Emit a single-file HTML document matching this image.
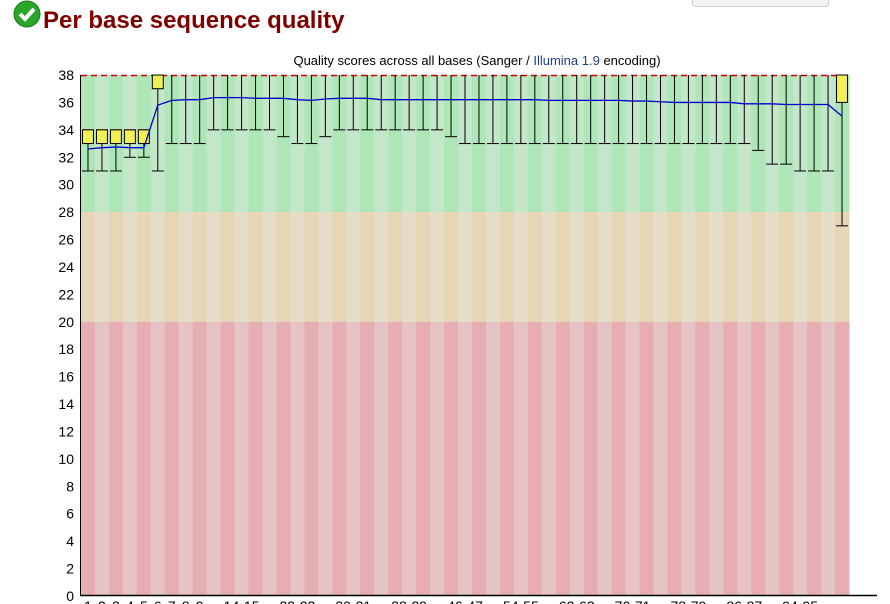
<!DOCTYPE html>
<html><head><meta charset="utf-8">
<style>
html,body{margin:0;padding:0;background:#fff;width:890px;height:604px;overflow:hidden;font-family:"Liberation Sans",sans-serif;}
#title{position:absolute;left:43px;top:7px;font-size:24px;font-weight:bold;color:#800000;margin:0;}
#chk{position:absolute;left:13px;top:0px;}
#btn{position:absolute;left:692px;top:-10px;width:135px;height:15px;border:1px solid #ccc;border-radius:3px;background:#f4f4f4;}
svg text{font-family:"Liberation Sans",sans-serif;}
</style></head><body>
<svg id="chk" width="30" height="30"><circle cx="14" cy="14" r="13" fill="#2aa52a" stroke="#1a7a1a"/><path d="M7 14 L12 19 L21 9" stroke="#fff" stroke-width="4" fill="none"/></svg>
<h2 id="title">Per base sequence quality</h2>
<div id="btn"></div>
<svg id="chart" width="890" height="604" style="position:absolute;left:0;top:0"></svg>
<script>
const labels=["1","2","3","4","5","6","7","8","9","10-11","12-13","14-15","16-17","18-19","20-21","22-23","24-25","26-27","28-29","30-31","32-33","34-35","36-37","38-39","40-41","42-43","44-45","46-47","48-49","50-51","52-53","54-55","56-57","58-59","60-61","62-63","64-65","66-67","68-69","70-71","72-73","74-75","76-77","78-79","80-81","82-83","84-85","86-87","88-89","90-91","92-93","94-95","96-97","98-99","100-101"];
const means=[32.6,32.7,32.75,32.7,32.7,35.8,36.15,36.2,36.2,36.35,36.35,36.35,36.3,36.3,36.3,36.2,36.15,36.25,36.3,36.3,36.3,36.2,36.2,36.2,36.2,36.2,36.2,36.2,36.2,36.2,36.2,36.2,36.2,36.15,36.15,36.15,36.15,36.15,36.15,36.1,36.1,36.05,36.0,36.0,36.0,36.0,36.0,35.9,35.9,35.9,35.85,35.85,35.85,35.85,35.0];
const q1=[33,33,33,33,33,37,38,38,38,38,38,38,38,38,38,38,38,38,38,38,38,38,38,38,38,38,38,38,38,38,38,38,38,38,38,38,38,38,38,38,38,38,38,38,38,38,38,38,38,38,38,38,38,38,36];
const q3=[34,34,34,34,34,38,38,38,38,38,38,38,38,38,38,38,38,38,38,38,38,38,38,38,38,38,38,38,38,38,38,38,38,38,38,38,38,38,38,38,38,38,38,38,38,38,38,38,38,38,38,38,38,38,38];
const lowW=[31,31,31,32,32,31,33,33,33,34,34,34,34,34,33.5,33,33,33.5,34,34,34,34,34,34,34,34,33.5,33,33,33,33,33,33,33,33,33,33,33,33,33,33,33,33,33,33,33,33,33,32.5,31.5,31.5,31,31,31,27];
const highW=[34,34,34,34,34,38,38,38,38,38,38,38,38,38,38,38,38,38,38,38,38,38,38,38,38,38,38,38,38,38,38,38,38,38,38,38,38,38,38,38,38,38,38,38,38,38,38,38,38,38,38,38,38,38,38];
const yTicks=[0,2,4,6,8,10,12,14,16,18,20,22,24,26,28,30,32,34,36,38];
const NS="http://www.w3.org/2000/svg";
const svg=document.getElementById('chart');
const X0=81,X1=849,Y0=596,Y38=75;
const n=labels.length,cw=(X1-X0)/n;
const y=v=>Y0-(v/38)*(Y0-Y38);
const xc=i=>X0+(i+0.5)*cw;
function mk(t,a){const e=document.createElementNS(NS,t);for(const k in a)e.setAttribute(k,a[k]);svg.appendChild(e);return e;}
const bands=[[28,38,"#aee6b8","#c4e6c9"],[20,28,"#e6d6b5","#e6dcc8"],[0,20,"#e6aeb1","#e6c4c5"]];
bands.forEach((b,bi)=>{for(let i=0;i<n;i++){const r=mk('rect',{x:X0+i*cw,y:y(b[1]),width:cw+0.5,height:y(b[0])-y(b[1]),fill:i%2==0?b[2]:b[3]});

}});
const t=mk('text',{x:477,y:65,'text-anchor':'middle','font-size':13,fill:'#000'});t.textContent='Quality scores across all bases (Sanger / ';

const ts=document.createElementNS(NS,'tspan');ts.setAttribute('fill','#1a3f8a');ts.textContent='Illumina 1.9';t.appendChild(ts);
t.appendChild(document.createTextNode(' encoding)'));
const rd=mk('line',{x1:X0,x2:X1,y1:Y38+0.5,y2:Y38+0.5,stroke:'#c00',"stroke-dasharray":"6,4","stroke-width":1.5});

for(let i=0;i<n;i++){const cx=xc(i);
 const w=mk('line',{x1:cx,x2:cx,y1:y(highW[i]),y2:y(lowW[i]),stroke:'#000'});
 
 const c1=mk('line',{x1:cx-cw/2+1,x2:cx+cw/2-1,y1:y(lowW[i]),y2:y(lowW[i]),stroke:'#000'});
 
 if(highW[i]<38){const c2=mk('line',{x1:cx-cw/2+1,x2:cx+cw/2-1,y1:y(highW[i]),y2:y(highW[i]),stroke:'#c00'});
 }
 if(q3[i]>q1[i]){const b=mk('rect',{x:cx-cw/2+1.5,y:y(q3[i]),width:cw-3,height:y(q1[i])-y(q3[i]),fill:'#f2ef55',stroke:'#000'});
 }
}
const pl=mk('polyline',{points:means.map((m,i)=>xc(i)+','+y(m)).join(' '),fill:'none',stroke:'#0000cc','stroke-width':1.3});

const ya=mk('line',{x1:80.5,x2:80.5,y1:Y38,y2:Y0,stroke:'#000'});
const xa=mk('line',{x1:80,x2:877,y1:Y0-0.5,y2:Y0-0.5,stroke:'#000','stroke-width':1.5});
yTicks.forEach(v=>{const e=mk('text',{x:74,y:y(v)+5,'text-anchor':'end','font-size':14,fill:'#000'});e.textContent=v;
});
labels.forEach((l,i)=>{if(i<9||(i>=11&&(i-11)%4==0)){const e=mk('text',{x:xc(i),y:611,'text-anchor':'middle','font-size':14,fill:'#000'});e.textContent=l;
}});
</script>
</body></html>
